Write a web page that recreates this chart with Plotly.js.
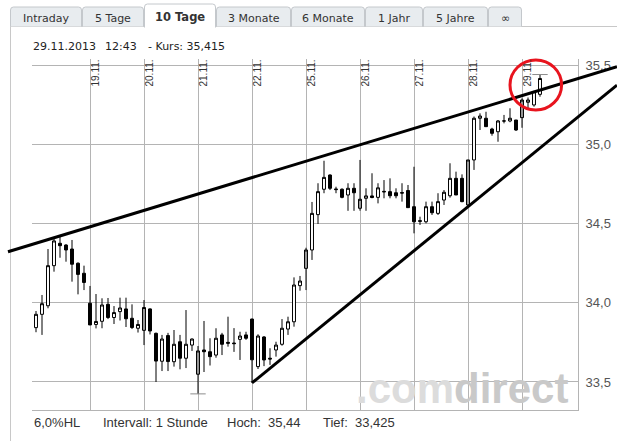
<!DOCTYPE html>
<html><head><meta charset="utf-8">
<script src="https://cdn.plot.ly/plotly-3.0.1.min.js"></script>
<style>html,body{margin:0;padding:0;background:#fff;overflow:hidden}#chart{width:617px;height:441px}</style>
</head><body><div id="chart"></div>
<script>
// ---------- data ----------
const dayLabels = ['19.11.','20.11.','21.11.','22.11.','25.11.','26.11.','27.11.','28.11.','29.11.'];
const dayStart  = [9,18,27,36,45,54,63,72,81];
const barsPerDay = 9;
const open = [33.843,33.927,33.981,34.234,34.375,34.364,34.339,34.249,34.186,
  33.997,33.863,33.883,33.990,33.907,33.944,33.961,33.902,33.839,
  33.826,33.961,33.807,33.631,33.793,33.628,33.754,33.650,33.733,
  33.549,33.702,33.691,33.670,33.797,33.750,33.746,33.769,33.797,
  33.897,33.597,33.784,33.650,33.702,33.738,33.834,33.880,34.108,
  34.217,34.333,34.556,34.716,34.806,34.718,34.716,34.680,34.722,
  34.596,34.659,34.674,34.665,34.703,34.701,34.694,34.695,34.708,
  34.606,34.518,34.511,34.606,34.564,34.648,34.675,34.785,34.785,
  34.617,34.901,35.164,35.164,35.096,35.079,35.147,35.147,35.153,
  35.168,35.265,35.248,35.315];
const high = [33.948,34.049,34.339,34.410,34.417,34.370,34.396,34.255,34.234,
  34.106,34.055,34.028,34.030,33.979,34.032,34.032,33.990,33.891,
  34.017,33.965,33.812,33.797,33.810,33.828,33.797,33.954,33.775,
  33.727,33.885,33.776,33.839,33.810,33.912,33.840,33.817,33.817,
  33.900,33.801,33.790,33.713,33.754,33.897,33.912,34.160,34.169,
  34.347,34.636,34.754,34.896,34.810,34.732,34.722,34.754,34.754,
  34.901,34.722,34.817,34.754,34.774,34.785,34.722,34.754,34.743,
  34.858,34.543,34.638,34.638,34.691,34.711,34.880,34.827,34.810,
  34.901,35.175,35.195,35.205,35.104,35.153,35.185,35.227,35.153,
  35.290,35.295,35.337,35.440];
const low = [33.814,33.797,33.965,34.196,34.284,34.259,34.133,34.053,34.080,
  33.860,33.838,33.839,33.897,33.866,33.888,33.847,33.834,33.812,
  33.733,33.800,33.500,33.569,33.569,33.597,33.580,33.588,33.696,
  33.425,33.563,33.604,33.653,33.670,33.723,33.690,33.639,33.766,
  33.494,33.582,33.600,33.608,33.660,33.729,33.797,33.849,34.076,
  34.080,34.270,34.497,34.691,34.711,34.691,34.659,34.580,34.580,
  34.581,34.580,34.659,34.627,34.659,34.659,34.659,34.638,34.600,
  34.438,34.491,34.501,34.554,34.554,34.617,34.663,34.680,34.634,
  34.606,34.838,35.090,35.111,35.054,35.016,35.132,35.139,35.084,
  35.104,35.216,35.237,35.300];
const close = [33.927,33.994,34.234,34.390,34.360,34.333,34.243,34.179,34.128,
  33.860,33.882,33.986,33.907,33.938,33.967,33.899,33.844,33.863,
  33.970,33.822,33.632,33.771,33.629,33.738,33.650,33.738,33.771,
  33.696,33.691,33.660,33.776,33.738,33.745,33.742,33.790,33.776,
  33.640,33.790,33.639,33.645,33.733,33.839,33.880,34.112,34.137,
  34.333,34.564,34.701,34.791,34.722,34.714,34.665,34.722,34.694,
  34.653,34.674,34.664,34.725,34.700,34.675,34.675,34.692,34.600,
  34.511,34.514,34.606,34.568,34.638,34.697,34.785,34.680,34.638,
  34.901,35.164,35.178,35.111,35.069,35.147,35.147,35.164,35.090,
  35.279,35.279,35.332,35.415];
const yTickVals = [33.5,34.0,34.5,35.0,35.5];
const upperTrendX = [-4.67, 96.83];
const upperTrendY = [34.322, 35.489];
const lowerTrendX = [36, 96.83];
const lowerTrendY = [33.494, 35.373];
const circleX = [79, 87.6];
const circleY = [35.216, 35.532];
const tabs = ['Intraday','5 Tage','10 Tage','3 Monate','6 Monate','1 Jahr','5 Jahre','\u221e'];
const activeTab = 2;
const headerParts = ['29.11.2013','12:43','- Kurs: 35,415'];
const footerParts = ['6,0%HL','Intervall: 1 Stunde','Hoch:','35,44','Tief:','33,425'];
const watermark = ['.com','direct'];

// ---------- layout helpers (pixels -> paper) ----------
const W = 617, H = 441;
const px = x => x / W, py = y => 1 - y / H;
const plotL = 32, plotR = 578, plotT = 59, plotB = 410;
const xRange = [-0.667, 90.333];
const yRange = [33.3233, 35.5379];
const xu = (xRange[1]-xRange[0])/(plotR-plotL);
const yu = (yRange[1]-yRange[0])/(plotB-plotT);
const x2Range = [xRange[0]-plotL*xu, xRange[1]+(W-plotR)*xu];
const y2Range = [yRange[0]-(H-plotB)*yu, yRange[1]+plotT*yu];

const idx = open.map((_, i) => i);
const isGrey = i => i > 0 && i % barsPerDay === 0 && close[i] > open[i];
const mainI = idx.filter(i => !isGrey(i));
const greyI = idx.filter(i => isGrey(i));
const pick = (arr, ids) => ids.map(i => arr[i]);

const candle = (ids, incFill, decFill) => ({
  type: 'candlestick', x: pick(idx, ids), open: pick(open, ids), high: pick(high, ids),
  low: pick(low, ids), close: pick(close, ids), xaxis: 'x', yaxis: 'y',
  whiskerwidth: 0, hoverinfo: 'skip', showlegend: false,
  increasing: {line: {color: '#000', width: 1}, fillcolor: incFill},
  decreasing: {line: {color: '#000', width: 1}, fillcolor: decFill}
});

let hi = 0, lo = 0;
idx.forEach(i => { if (high[i] > high[hi]) hi = i; if (low[i] < low[lo]) lo = i; });

const traces = [
  candle(mainI, '#ffffff', '#000000'),
  candle(greyI, '#9a9a9a', '#9a9a9a'),
  {type: 'scatter', mode: 'markers', x: [hi, lo], y: [high[hi], low[lo]], xaxis: 'x', yaxis: 'y',
   cliponaxis: false, hoverinfo: 'skip', showlegend: false,
   marker: {symbol: 'line-ew', size: 11, line: {color: '#8c8c8c', width: 1}}},
  {type: 'scatter', mode: 'lines', x: upperTrendX, y: upperTrendY, xaxis: 'x2', yaxis: 'y2',
   line: {color: '#000', width: 3}, hoverinfo: 'skip', showlegend: false},
  {type: 'scatter', mode: 'lines', x: lowerTrendX, y: lowerTrendY, xaxis: 'x2', yaxis: 'y2',
   line: {color: '#000', width: 3}, hoverinfo: 'skip', showlegend: false}
];

// ---------- decorations ----------
const shapes = [];
const annotations = [];
const tabEdges = [[10,82],[82,144],[144,216],[216,291],[291,365],[365,423],[423,488],[488,522]];
const tabTop = 7, activeTop = 4;
const tabPath = (x0, x1, yt, yb, r) =>
  `M ${px(x0)},${py(yb)} L ${px(x0)},${py(yt+r)} Q ${px(x0)},${py(yt)} ${px(x0+r)},${py(yt)} ` +
  `L ${px(x1-r)},${py(yt)} Q ${px(x1)},${py(yt)} ${px(x1)},${py(yt+r)} L ${px(x1)},${py(yb)}`;
shapes.push({type:'line', xref:'paper', yref:'paper', x0:px(10), x1:px(617), y0:py(26.5), y1:py(26.5),
  line:{color:'#c8c8c8', width:1}, layer:'below'});
shapes.push({type:'line', xref:'paper', yref:'paper', x0:px(10.5), x1:px(10.5), y0:py(26.5), y1:py(441),
  line:{color:'#c8c8c8', width:1}, layer:'below'});
tabs.forEach((t, k) => {
  const [a, b] = tabEdges[k];
  const act = k === activeTab;
  shapes.push({type:'path', xref:'paper', yref:'paper', layer:'below',
    path: tabPath(a+0.5, b-0.5, act ? activeTop : tabTop, act ? 27.5 : 26.5, 3),
    fillcolor: act ? '#ffffff' : '#e8ecef', line:{color:'#c4c8cc', width:1}});
  annotations.push({xref:'paper', yref:'paper', x:px((a+b)/2), y:py(act ? 17.5 : 18.5), text: act ? '<b>'+t+'</b>' : t,
    showarrow:false, xanchor:'center', yanchor:'middle',
    font:{family:'DejaVu Sans, Verdana, sans-serif', size: act ? 11.5 : 11, color:'#333'}});
});
[[32, 0], [104, 1], [147, 2]].forEach(([x, k]) => annotations.push({xref:'paper', yref:'paper',
  x:px(x), y:py(46.5), text:headerParts[k], showarrow:false, xanchor:'left', yanchor:'middle',
  borderpad:0, font:{family:'DejaVu Sans, Verdana, sans-serif', size:11, color:'#222'}}));
[[33,0],[102,1],[226,2],[267,3],[322,4],[354,5]].forEach(([x, k]) => annotations.push({xref:'paper', yref:'paper',
  x:px(x), y:py(422), text:footerParts[k], showarrow:false, xanchor:'left', yanchor:'middle',
  borderpad:0, font:{family:'Liberation Sans, Arial, sans-serif', size:13, color:'#333'}}));
dayLabels.forEach((d, k) => annotations.push({xref:'x', yref:'y domain', x:dayStart[k], y:1,
  text:d, showarrow:false, textangle:-90, xanchor:'center', yanchor:'top', xshift:5, yshift:0,
  borderpad:0, font:{family:'Liberation Sans, Arial, sans-serif', size:10, color:'#333'}}));
annotations.push({xref:'paper', yref:'paper', x:px(355), y:py(388), showarrow:false,
  xanchor:'left', yanchor:'middle', borderpad:0,
  text:'<span style="color:#dcdcdc">'+watermark[0]+'</span><span style="color:#c9c9c9">'+watermark[1]+'</span>',
  font:{family:'Liberation Sans, Arial, sans-serif', size:42, weight:700, color:'#ccc'}});
shapes.push({type:'circle', xref:'x2', yref:'y2', x0:circleX[0], x1:circleX[1], y0:circleY[0], y1:circleY[1],
  line:{color:'#e8141e', width:3}});

const layout = {
  width: W, height: H, margin: {l:0, r:0, t:0, b:0},
  paper_bgcolor: '#fff', plot_bgcolor: 'rgba(0,0,0,0)', separators: ',.',
  showlegend: false, dragmode: false, boxgap: 0.3,
  xaxis: {domain:[px(plotL), px(plotR)], range: xRange, tickvals: dayStart, showticklabels:false,
    ticks:'', showgrid:true, gridcolor:'#b4b4b4', gridwidth:1, zeroline:false,
    showline:true, linecolor:'#b4b4b4', linewidth:1, rangeslider:{visible:false}, fixedrange:true},
  yaxis: {domain:[py(plotB), py(plotT)], range: yRange, side:'right', tickvals: yTickVals,
    tickformat:'.1f', ticks:'', ticklabelstandoff: 4, showgrid:true, gridcolor:'#b4b4b4', gridwidth:1,
    zeroline:false, showline:true, linecolor:'#b4b4b4', linewidth:1, fixedrange:true,
    tickfont:{family:'Liberation Sans, Arial, sans-serif', size:13, color:'#555'}},
  xaxis2: {domain:[0,1], range:x2Range, visible:false, anchor:'y2', fixedrange:true},
  yaxis2: {domain:[0,1], range:y2Range, visible:false, anchor:'x2', fixedrange:true},
  shapes, annotations
};
Plotly.newPlot('chart', traces, layout, {staticPlot:true, displayModeBar:false});
</script></body></html>
